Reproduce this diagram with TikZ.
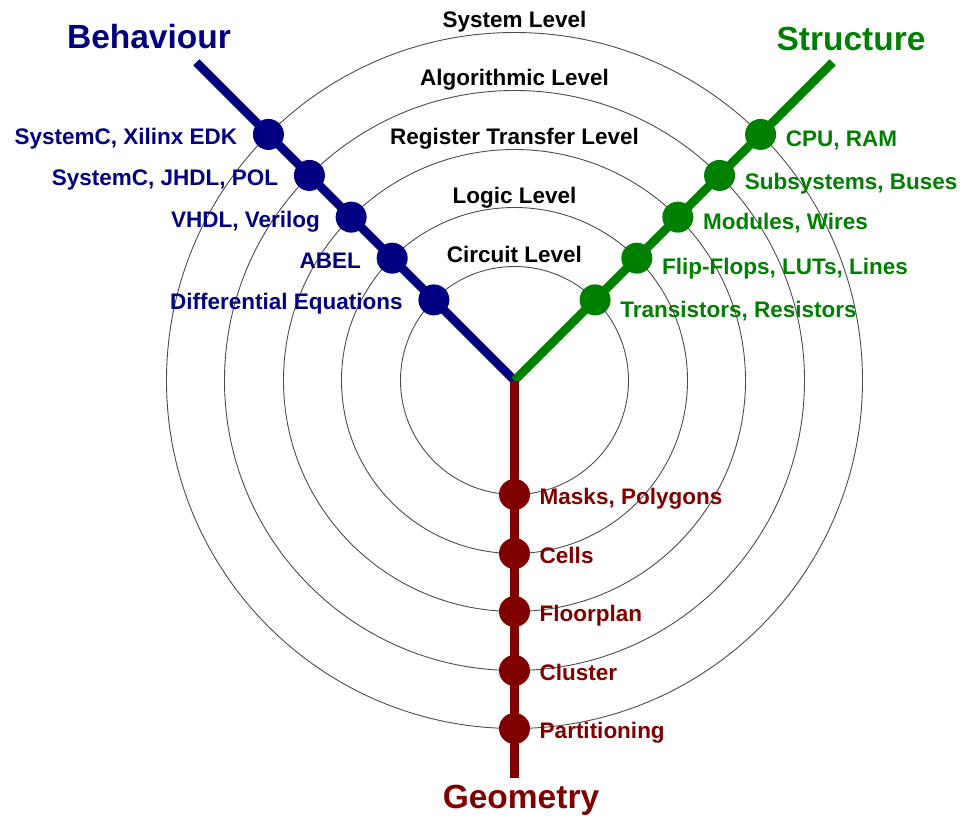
\documentclass[tikz,border=0pt]{standalone}
\usepackage{fontspec}
\setmainfont{Liberation Sans}

\definecolor{behcol}{RGB}{0,0,128}
\definecolor{strcol}{RGB}{0,128,0}
\definecolor{geocol}{RGB}{128,0,0}

\begin{document}
\begin{tikzpicture}[x=1pt, y=1pt, font=\bfseries\fontsize{22.5}{26}\selectfont]
    \useasboundingbox (-514.5,-436.5) rectangle (445.5,380.5);

    \tikzset{
        ring/.style = {draw=black!70, line width=0.9pt},
        arm/.style = {line width=8.5pt},
        dot/.style = {circle, fill, inner sep=0pt, minimum size=31pt},
        title/.style = {anchor=base, font=\bfseries\fontsize{33.5}{38}\selectfont},
    }

    % abstraction levels
    \foreach \r/\name [count=\i] in {114/Circuit Level, 173/Logic Level, 231/Register Transfer Level, 290/Algorithmic Level, 348/System Level}{
            \draw[ring] (0,0) circle (\r pt);
            \node[anchor=base] (lvl\i) at (0,\r+4.5) {\name};
        }

    \coordinate (O) at (0,0);
    \coordinate (Bend) at (135:450);
    \coordinate (Send) at (45:450);
    \coordinate (Gend) at (0,-397);

    \draw[arm, behcol] (O) -- (Bend);
    \draw[arm, strcol] (O) -- (Send);
    \draw[arm, geocol] (O) -- (Gend);

    \foreach \r/\txt [count=\i] in {114/Differential Equations, 173/ABEL, 231/{VHDL, Verilog}, 290/{SystemC, JHDL, POL}, 348/{SystemC, Xilinx EDK}}{
            \node[dot, behcol] (b\i) at (135:\r) {};
            \node[behcol, anchor=base east, xshift=-12pt, yshift=-10pt] (bl\i) at (b\i.west) {\txt};
        }

    \foreach \r/\dy/\txt [count=\i] in {114/-18/{Transistors, Resistors}, 173/-16.5/{Flip-Flops, LUTs, Lines}, 231/-12.5/{Modules, Wires}, 290/-14/{Subsystems, Buses}, 348/-12/{CPU, RAM}}{
            \node[dot, strcol] (s\i) at (45:\r) {};
            \node[strcol, anchor=base west, xshift=6pt, yshift=\dy pt] (sl\i) at (s\i.east) {\txt};
        }

    \foreach \r/\txt [count=\i] in {114/{Masks, Polygons}, 173/Cells, 231/Floorplan, 290/Cluster, 348/Partitioning}{
            \node[dot, geocol] (g\i) at (0,-\r) {};
            \node[geocol, anchor=base west, xshift=6pt, yshift=-10pt] (gl\i) at (g\i.east) {\txt};
        }

    \node[title, behcol] (beh) at (-365.5,331.5) {Behaviour};
    \node[title, strcol] (str) at (336.5,329.5) {Structure};
    \node[title, geocol] (geo) at (6.5,-427.5) {Geometry};

\end{tikzpicture}
\end{document}
